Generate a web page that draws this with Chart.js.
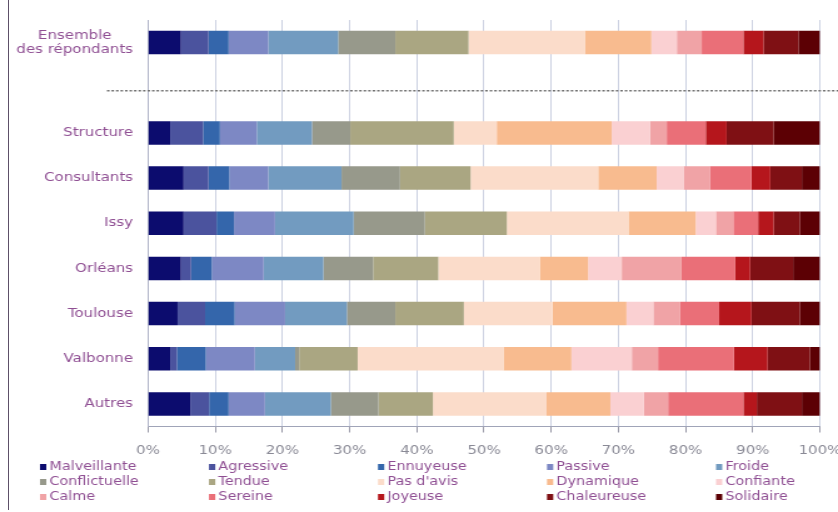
<!DOCTYPE html>
<html>
<head>
<meta charset="utf-8">
<script src="https://cdn.jsdelivr.net/npm/chart.js@4.4.1/dist/chart.umd.min.js"></script>
<style>
  html, body { margin: 0; padding: 0; background: #fff; }
  .wrap { position: relative; width: 838px; height: 512px; overflow: hidden; }
  .frame { position: absolute; left: 8px; top: 0; width: 1px; height: 510px; background: #5d5068; }
</style>
</head>
<body>
<div class="wrap">
  <!-- drawn at 670 wide, shown stretched to 838 -->
  <canvas id="myChart" width="670" height="512" style="width:838px;height:512px;display:block"></canvas>
  <div class="frame"></div>
</div>
<script>
//rows (the empty one holds the dotted separator)
const rowNames = [["Ensemble", "des répondants"], "", "Structure", "Consultants", "Issy", "Orléans", "Toulouse", "Valbonne", "Autres"];

//percentages per row, same order as rowNames
const malveillante  = [4.9, null, 3.3, 5.3, 5.3, 4.9, 4.4, 3.3, 6.3];
const agressive     = [4.1, null, 4.9, 3.7, 4.9, 1.5, 4.1, 1.0, 2.8];
const ennuyeuse     = [3.0, null, 2.5, 3.1, 2.6, 3.1, 4.4, 4.3, 2.9];
const passive       = [5.9, null, 5.5, 5.8, 6.1, 7.7, 7.5, 7.3, 5.4];
const froide        = [10.4, null, 8.2, 10.9, 11.7, 8.9, 9.2, 6.0, 9.8];
const conflictuelle = [8.5, null, 5.7, 8.7, 10.6, 7.4, 7.2, 0.6, 7.1];
const tendue        = [10.9, null, 15.4, 10.5, 12.2, 9.7, 10.2, 8.7, 8.1];
const pasDavis      = [17.3, null, 6.4, 19.0, 18.1, 15.1, 13.2, 21.7, 16.9];
const dynamique     = [9.9, null, 17.1, 8.7, 10.0, 7.2, 11.0, 10.1, 9.5];
const confiante     = [3.8, null, 5.7, 4.0, 3.0, 5.0, 4.0, 9.0, 5.0];
const calme         = [3.7, null, 2.5, 3.9, 2.6, 8.9, 4.0, 3.9, 3.6];
const sereine       = [6.2, null, 5.8, 6.2, 3.7, 8.0, 5.8, 11.3, 11.2];
const joyeuse       = [3.0, null, 3.1, 2.8, 2.3, 2.2, 4.8, 5.0, 2.0];
const chaleureuse   = [5.2, null, 7.0, 4.7, 3.9, 6.4, 7.2, 6.3, 6.7];
const solidaire     = [3.2, null, 6.9, 2.7, 3.0, 4.0, 3.0, 1.5, 2.7];

const tickValues = [0, 10, 20, 30, 40, 50, 60, 70, 80, 90, 100];

const S = 838 / 670; //horizontal stretch of the canvas
const labelColor = "#8f4f93";

const series = [
  ["Malveillante", malveillante, "#0c0c6e"],
  ["Agressive", agressive, "#4b539e"],
  ["Ennuyeuse", ennuyeuse, "#3466ab"],
  ["Passive", passive, "#7d88c4"],
  ["Froide", froide, "#729bc0"],
  ["Conflictuelle", conflictuelle, "#97998b"],
  ["Tendue", tendue, "#aaa682"],
  ["Pas d'avis", pasDavis, "#fbdcca"],
  ["Dynamique", dynamique, "#f8bb8f"],
  ["Confiante", confiante, "#fad0d2"],
  ["Calme", calme, "#f0a3a6"],
  ["Sereine", sereine, "#ea6f78"],
  ["Joyeuse", joyeuse, "#b5161c"],
  ["Chaleureuse", chaleureuse, "#7f1014"],
  ["Solidaire", solidaire, "#5c0004"],
];

//dotted separator under the first row
const dividerLine = {
  id: "dividerLine",
  afterDatasetsDraw(chart) {
    const { ctx } = chart;
    const y = chart.scales.y.getPixelForValue(1) + 3;
    ctx.save();
    ctx.strokeStyle = "#707070";
    ctx.lineWidth = 1.5;
    ctx.setLineDash([2, 1.6]);
    ctx.beginPath();
    ctx.moveTo(107 / S, y);
    ctx.lineTo(chart.width, y);
    ctx.stroke();
    ctx.restore();
  },
};

//row labels, multi-line ones centred on their widest line
const rowLabels = {
  id: "rowLabels",
  afterDraw(chart) {
    const { ctx } = chart;
    const yScale = chart.scales.y;
    const right = 133 / S;
    ctx.save();
    ctx.font = '12px "DejaVu Sans"';
    ctx.fillStyle = labelColor;
    ctx.textAlign = "center";
    ctx.textBaseline = "middle";
    chart.data.labels.forEach((name, i) => {
      const lines = Array.isArray(name) ? name : [name];
      const w = Math.max(...lines.map((l) => ctx.measureText(l).width));
      const y0 = yScale.getPixelForValue(i) - (lines.length - 1) * 7;
      lines.forEach((l, k) => ctx.fillText(l, right - w / 2, y0 + k * 14));
    });
    ctx.restore();
  },
};

//legend in a 5 column grid
const gridLegend = {
  id: "gridLegend",
  afterDraw(chart) {
    const { ctx } = chart;
    ctx.save();
    ctx.font = '11.5px "DejaVu Sans"';
    ctx.textBaseline = "middle";
    ctx.textAlign = "left";
    chart.data.datasets.forEach((ds, i) => {
      const col = i % 5;
      const row = Math.floor(i / 5);
      const x = (40 + 169 * col) / S;
      const y = 467 + row * 15;
      ctx.fillStyle = ds.backgroundColor;
      ctx.fillRect(x, y - 3, 5, 6);
      ctx.fillStyle = labelColor;
      ctx.fillText(ds.label, x + 7.5, y);
    });
    ctx.restore();
  },
};

const data = {
  labels: rowNames,
  datasets: series.map(([name, values, color]) => ({
    label: name,
    data: values,
    backgroundColor: color,
    borderWidth: 0,
    barPercentage: 0.52,
    categoryPercentage: 1,
  })),
};

const config = {
  type: "bar",
  data: data,
  options: {
    indexAxis: "y",
    responsive: false,
    animation: false,
    devicePixelRatio: 1,
    layout: { padding: { left: 0, top: 20, right: 670 - 820 / S, bottom: 53.5 } },
    plugins: {
      legend: { display: false },
      tooltip: { enabled: false },
    },
    scales: {
      x: {
        stacked: true,
        min: 0,
        max: 100,
        afterBuildTicks: (scale) => {
          scale.ticks = tickValues.map((v) => ({ value: v }));
        },
        afterFit: (scale) => {
          scale.height = 32;
          scale.paddingLeft = 0;
          scale.paddingRight = 0;
        },
        ticks: {
          callback: (v) => v + "%",
          color: "#8a8a96",
          font: { family: "DejaVu Sans", size: 12 },
          padding: 11,
        },
        grid: { color: "#cdd2e2", tickColor: "#9a9aa8", tickLength: 6 },
        border: { color: "#a0a4b8" },
      },
      y: {
        stacked: true,
        afterFit: (scale) => {
          scale.width = 148 / S;
        },
        ticks: { display: false },
        grid: { display: false },
        border: { color: "#b0b4c8" },
      },
    },
  },
  plugins: [dividerLine, rowLabels, gridLegend],
};

const myChart = new Chart(document.getElementById("myChart"), config);
</script>
</body>
</html>
